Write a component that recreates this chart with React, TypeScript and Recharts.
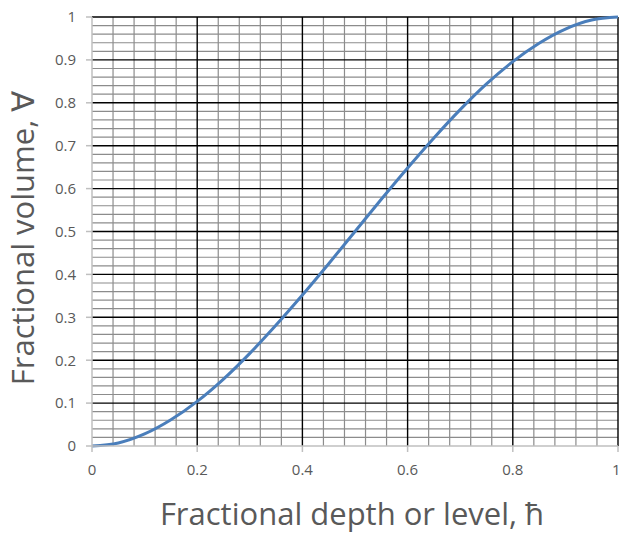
import * as React from "react";
import { LineChart, Line, XAxis, YAxis, ReferenceLine } from "recharts";

const depth = [0, 0.05, 0.1, 0.15, 0.2, 0.25, 0.3, 0.35, 0.4, 0.45, 0.5, 0.55, 0.6, 0.65, 0.7, 0.75, 0.8, 0.85, 0.9, 0.95, 1];
const volume = [0, 0.007, 0.028, 0.061, 0.104, 0.156, 0.216, 0.282, 0.352, 0.425, 0.5, 0.575, 0.648, 0.718, 0.784, 0.844, 0.896, 0.939, 0.972, 0.993, 1];

const xTicks = [0, 0.2, 0.4, 0.6, 0.8, 1];
const yTicks = [0, 0.1, 0.2, 0.3, 0.4, 0.5, 0.6, 0.7, 0.8, 0.9, 1];

// grid
const minorX = [0.04, 0.08, 0.12, 0.16, 0.24, 0.28, 0.32, 0.36, 0.44, 0.48, 0.52, 0.56, 0.64, 0.68, 0.72, 0.76, 0.84, 0.88, 0.92, 0.96];
const minorY = [
  0.02, 0.04, 0.06, 0.08, 0.12, 0.14, 0.16, 0.18, 0.22, 0.24, 0.26, 0.28, 0.32, 0.34, 0.36, 0.38,
  0.42, 0.44, 0.46, 0.48, 0.52, 0.54, 0.56, 0.58, 0.62, 0.64, 0.66, 0.68, 0.72, 0.74, 0.76, 0.78,
  0.82, 0.84, 0.86, 0.88, 0.92, 0.94, 0.96, 0.98,
];
const majorX = [0.2, 0.4, 0.6, 0.8, 1];
const majorY = [0.1, 0.2, 0.3, 0.4, 0.5, 0.6, 0.7, 0.8, 0.9, 1];

const data = depth.map((d, i) => ({ depth: d, volume: volume[i] }));

const FONT = "'Open Sans', sans-serif";
const tickStyle = { fontSize: 15, fill: "#595959", fontFamily: FONT };
const titleStyle = { fontSize: 31, fill: "#595959", fontFamily: FONT };

const XTitle = () => (
  <text x={352} y={525} textAnchor="middle" style={titleStyle}>
    Fractional depth or level, ħ
  </text>
);

const YTitle = () => (
  <text x={34} y={238} transform="rotate(-90, 34, 238)" textAnchor="middle" style={titleStyle}>
    Fractional volume, ∀
  </text>
);

export default function App() {
  return (
    <div style={{ position: "absolute", left: 0, top: 0, width: 620, height: 534, background: "#fff" }}>
      <LineChart width={620} height={534} data={data} margin={{ top: 17, right: 2, bottom: 0, left: 0 }}>
        <XAxis
          dataKey="depth"
          type="number"
          domain={[0, 1]}
          ticks={xTicks}
          tickFormatter={(v) => String(v)}
          height={88}
          stroke="#bfbfbf"
          strokeWidth={1.5}
          tickSize={6}
          tickMargin={12}
          tick={tickStyle}
          label={{ content: XTitle }}
        />
        <YAxis
          type="number"
          domain={[0, 1]}
          ticks={yTicks}
          tickFormatter={(v) => String(v)}
          width={92}
          stroke="#bfbfbf"
          strokeWidth={1.5}
          tickSize={6}
          tickMargin={10}
          tick={tickStyle}
          label={{ content: YTitle }}
        />
        {minorX.map((v) => (
          <ReferenceLine key={`mx${v}`} x={v} stroke="#8c8c8c" strokeWidth={1.2} />
        ))}
        {minorY.map((v) => (
          <ReferenceLine key={`my${v}`} y={v} stroke="#8c8c8c" strokeWidth={1.2} />
        ))}
        {majorX.map((v) => (
          <ReferenceLine key={`MX${v}`} x={v} stroke="#000" strokeWidth={1.4} />
        ))}
        {majorY.map((v) => (
          <ReferenceLine key={`MY${v}`} y={v} stroke="#000" strokeWidth={1.4} />
        ))}
        <Line
          type="monotone"
          dataKey="volume"
          stroke="#4a7ebb"
          strokeWidth={3}
          dot={false}
          isAnimationActive={false}
        />
      </LineChart>
    </div>
  );
}
